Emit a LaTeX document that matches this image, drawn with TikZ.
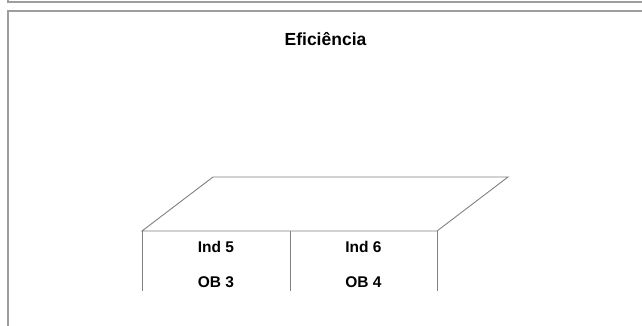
\documentclass[tikz,border=0pt]{standalone}
\usepackage{fontspec}
\setmainfont{Liberation Sans}[BoldFont={Liberation Sans Bold}]
\begin{document}
\begin{tikzpicture}[x=1pt,y=-1pt,
  frame/.style={draw=black!38, line width=2pt},
  edge/.style={draw=black!50, line width=0.9pt},
  title/.style={anchor=base, font=\bfseries\fontsize{17.5}{20}\selectfont, inner sep=0pt},
  lbl/.style={anchor=base, font=\bfseries\fontsize{15.5}{18}\selectfont, inner sep=0pt}]
\useasboundingbox (0,0) rectangle (642,326);
% frames
\draw[frame] (8,0) -- (8,2) -- (643,2);
\draw[frame] (8,327) -- (8,11) -- (643,11);
% title
\node[title] (t) at (325.5,45.7) {Eficiência};
% box
\coordinate (bl) at (213,177);
\coordinate (br) at (508,177);
\coordinate (fl) at (142,231);
\coordinate (fm) at (290,231);
\coordinate (fr) at (437,231);
\coordinate (ll) at (142,291);
\coordinate (lm) at (290,291);
\coordinate (lr) at (437,291);
\draw[edge] (fl) -- (bl) -- (br) -- (fr) -- cycle;
\draw[edge] (fl) -- (ll);
\draw[edge] (fm) -- (lm);
\draw[edge] (fr) -- (lr);
\node[lbl] (i5) at (216,252.7) {Ind 5};
\node[lbl] (i6) at (363.5,252.7) {Ind 6};
\node[lbl] (o3) at (216,287.3) {OB 3};
\node[lbl] (o4) at (363.5,287.3) {OB 4};
\end{tikzpicture}
\end{document}
